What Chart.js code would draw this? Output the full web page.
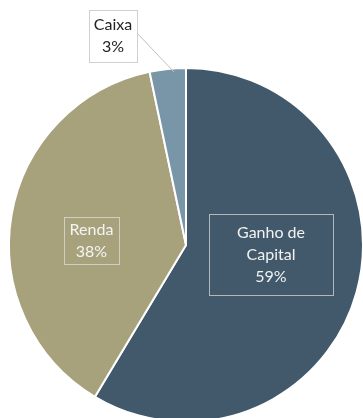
<!DOCTYPE html>
<html>
<head>
<meta charset="utf-8">
<script src="https://cdn.jsdelivr.net/npm/chart.js@4"></script>
<style>
  html, body { margin: 0; padding: 0; background: #fff; overflow: hidden; }
  #wrap { position: absolute; left: 0; top: 0; width: 372px; height: 490px; }
</style>
</head>
<body>
<div id="wrap"><canvas id="alloc"></canvas></div>
<script>
const categories = ["Ganho de Capital", "Renda", "Caixa"];
const shares = [58.6, 38.1, 3.3];
const colors = ["#41596a", "#a8a27c", "#7896a8"];

// label box settings, one per slice
const labelBoxes = [
  { lines: ["Ganho de", "Capital"], cx: 271, cy: 254.5, w: 124, h: 81, text: "#f2f2f2", border: "#b4b8bc", fill: null },
  { lines: ["Renda"], cx: 91.5, cy: 240.5, w: 55, h: 47, text: "#f4f4f4", border: "#d0cfc4", fill: null },
  { lines: ["Caixa"], cx: 113, cy: 36, w: 48, h: 52, text: "#222", border: "#d0d0d0", fill: "#fff",
    leader: [[137, 33], [174, 72]] },
];

const boxLabels = {
  id: "boxLabels",
  afterDatasetsDraw(chart) {
    const ctx = chart.ctx;
    const values = chart.data.datasets[0].data;
    const total = values.reduce((a, b) => a + b, 0);
    ctx.save();
    ctx.font = "16px Lato";
    ctx.textAlign = "center";
    ctx.textBaseline = "middle";
    labelBoxes.forEach((b, i) => {
      const pct = Math.round((values[i] / total) * 100) + "%";
      const lines = b.lines.concat(pct);
      if (b.leader) {
        ctx.strokeStyle = "#c0c0c0";
        ctx.lineWidth = 1;
        ctx.beginPath();
        ctx.moveTo(b.leader[0][0], b.leader[0][1]);
        ctx.lineTo(b.leader[1][0], b.leader[1][1]);
        ctx.stroke();
      }
      const x0 = Math.round(b.cx - b.w / 2) + 0.5;
      const y0 = Math.round(b.cy - b.h / 2) + 0.5;
      if (b.fill) {
        ctx.fillStyle = b.fill;
        ctx.fillRect(x0, y0, b.w, b.h);
      }
      ctx.strokeStyle = b.border;
      ctx.lineWidth = 1;
      ctx.strokeRect(x0, y0, b.w, b.h);
      ctx.fillStyle = b.text;
      const lh = 22;
      const top = b.cy - ((lines.length - 1) * lh) / 2;
      lines.forEach((t, k) => ctx.fillText(t, b.cx, top + k * lh));
    });
    ctx.restore();
  },
};

new Chart(document.getElementById("alloc"), {
  type: "pie",
  data: {
    labels: categories,
    datasets: [{
      data: shares,
      backgroundColor: colors,
      borderColor: "#fff",
      borderWidth: 2,
    }],
  },
  options: {
    responsive: true,
    maintainAspectRatio: false,
    animation: false,
    radius: 177,
    layout: { padding: 0 },
    plugins: {
      legend: { display: false },
      tooltip: { enabled: false },
    },
  },
  plugins: [boxLabels],
});
</script>
</body>
</html>
